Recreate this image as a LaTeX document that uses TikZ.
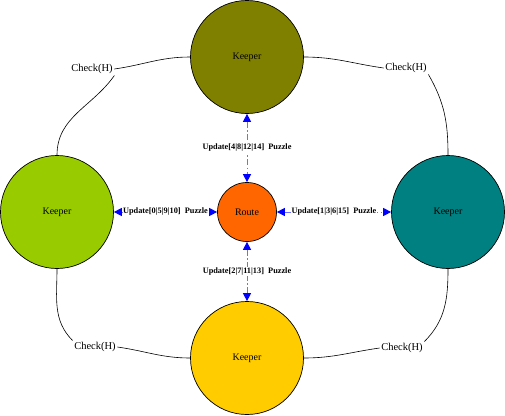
\documentclass[tikz,border=0pt]{standalone}
\usepackage{fontspec}
\setmainfont{Liberation Serif}
\usetikzlibrary{arrows.meta}
\definecolor{olivec}{HTML}{808000}
\definecolor{limec}{HTML}{99CC00}
\definecolor{tealc}{HTML}{008080}
\definecolor{goldc}{HTML}{FFCC00}
\definecolor{routec}{HTML}{FF6600}
\definecolor{linkblue}{HTML}{6F6FFF}
\begin{document}
\begin{tikzpicture}[x=1pt,y=-1pt,
  keeper/.style={circle,draw=black,line width=0.7pt,minimum size=113pt,inner sep=0pt,font=\fontsize{10}{12}\selectfont},
  routebox/.style={circle,draw=black,line width=0.7pt,fill=routec,minimum size=59pt,inner sep=0pt,font=\fontsize{10}{12}\selectfont},
  checklab/.style={font=\fontsize{10.5}{12}\selectfont,inner sep=1.5pt},
  checkline/.style={draw=black,line width=0.6pt},
  upd/.style={draw=linkblue,line width=1pt,dash pattern=on 6pt off 2.5pt on 1.5pt off 2.5pt,
    {Triangle[length=8pt,width=8pt,color=blue,fill=blue]}-{Triangle[length=8pt,width=8pt,color=blue,fill=blue]}},
  updlab/.style={font=\bfseries\fontsize{8.3}{9}\selectfont,fill=white,inner sep=1pt,text=black}]
\useasboundingbox (0,0) rectangle (505,415);
\node[keeper,fill=olivec] (top) at (247,57) {Keeper};
\node[keeper,fill=limec] (left) at (57,212) {Keeper};
\node[keeper,fill=tealc] (right) at (448,212) {Keeper};
\node[keeper,fill=goldc] (bot) at (247,358) {Keeper};
\node[routebox] (route) at (247,212) {Route};
\node[checklab] (c1) at (92,69) {Check(H)};
\node[checklab] (c2) at (406,68) {Check(H)};
\node[checklab] (c3) at (95,347) {Check(H)};
\node[checklab] (c4) at (402,348) {Check(H)};
\draw[checkline] (top.west) to[out=180,in=8] (c1.east);
\draw[checkline] (c1.south east) to[out=-125,in=90] (left.north);
\draw[checkline] (top.east) to[out=0,in=172] (c2.west);
\draw[checkline] (c2.south east) to[out=-60,in=90] (right.north);
\draw[checkline] (left.south) to[out=-90,in=135] (c3.north west);
\draw[checkline] (c3.east) to[out=-8,in=180] (bot.west);
\draw[checkline] (right.south) to[out=-90,in=45] (c4.north east);
\draw[checkline] (c4.west) to[out=188,in=0] (bot.east);
\draw[upd] (top.south) -- node[updlab] {Update[4|8|12|14]\ \ Puzzle} (route.north);
\draw[upd] (left.east) -- node[updlab,inner sep=0.5pt] {Update[0|5|9|10]\ \ Puzzle} (route.west);
\draw[upd] (route.east) -- node[updlab,inner sep=0.5pt] {Update[1|3|6|15]\ \ Puzzle} (right.west);
\draw[upd] (route.south) -- node[updlab] {Update[2|7|11|13]\ \ Puzzle} (bot.north);
\end{tikzpicture}
\end{document}
